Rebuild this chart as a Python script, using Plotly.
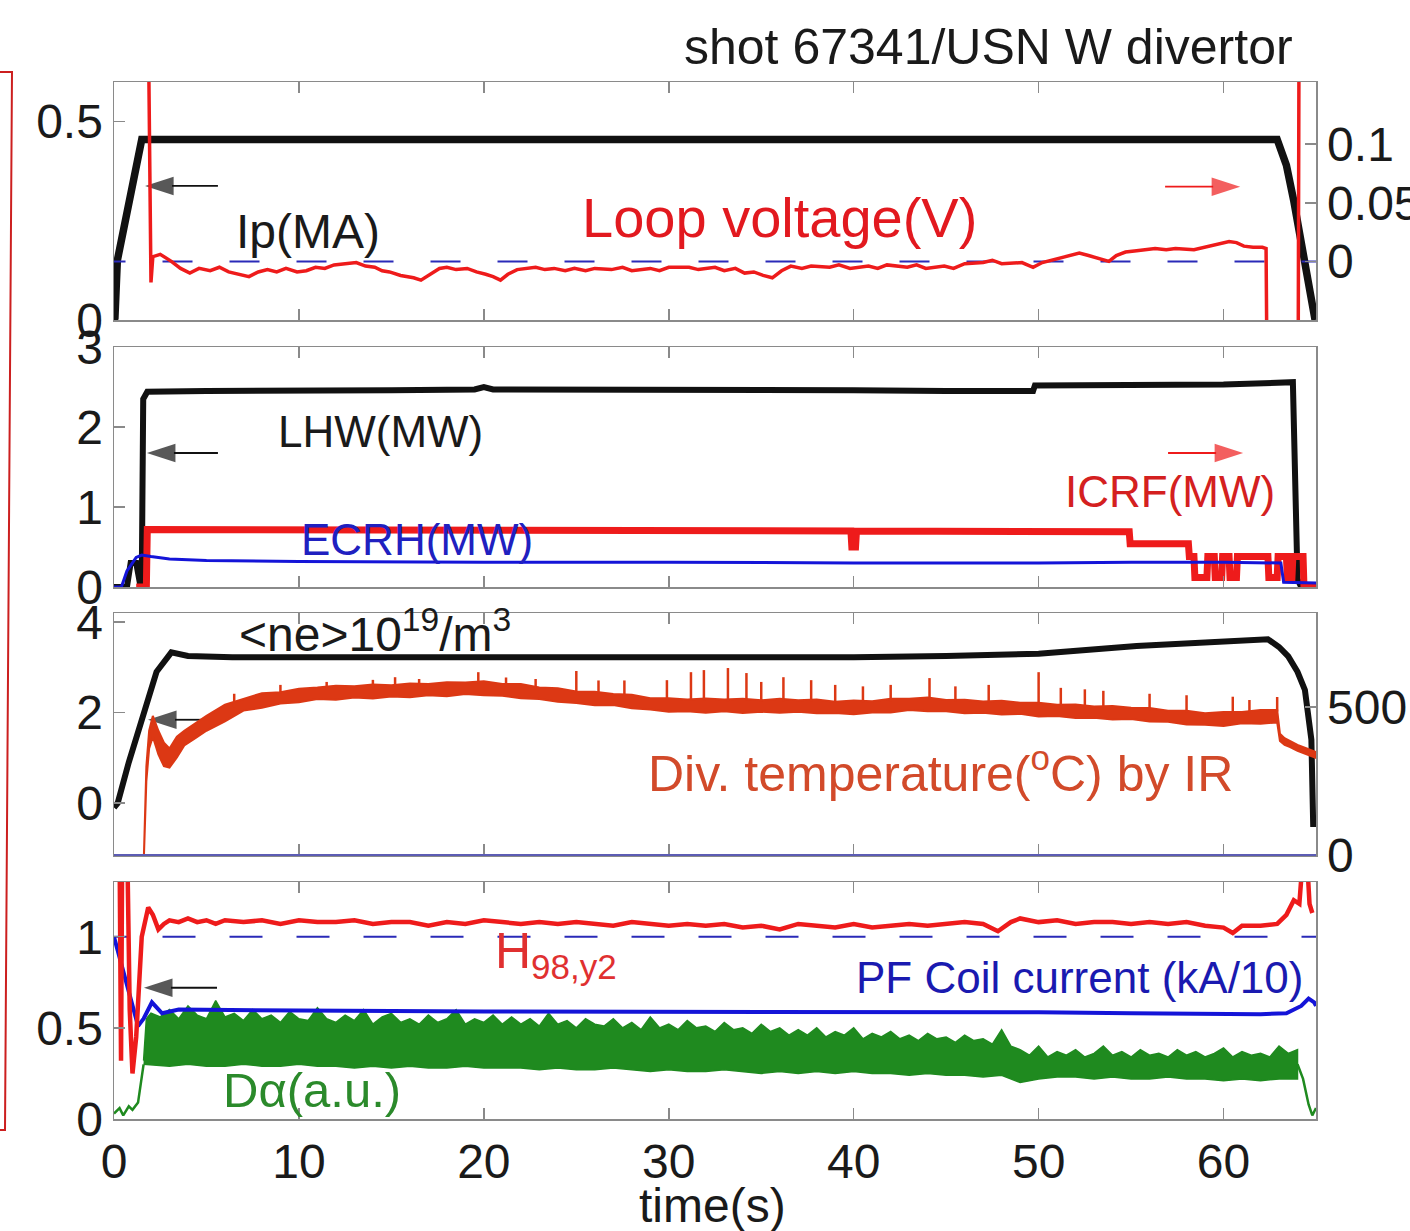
import plotly.graph_objects as go

FONT = "Liberation Sans, Arial, Helvetica, sans-serif"
W, H = 1410, 1231
PL, PR, PT, PB = 114, 1316, 82, 1119   # plot-area pixel box

def px_x(px):
    return (px - PL) / (PR - PL)

def px_y(py):
    return (PB - py) / (PB - PT)

P1 = (82, 320); P2 = (347, 587); P3 = (613, 855); P4 = (882, 1119)

def dom(p):
    return [px_y(p[1]), px_y(p[0])]

# ---------------- data ----------------
time_ticks = [0, 10, 20, 30, 40, 50, 60]

# Panel 1: plasma current (MA) and loop voltage (V)
ip_t = [0.0, 0.05, 0.18, 1.5, 62.9, 63.4, 63.8, 64.5, 64.95]
ip_v = [0.0, 0.005, 0.15, 0.455, 0.455, 0.39, 0.30, 0.10, 0.0]

lv_t = [
    1.6, 2.0, 2.1, 2.5, 3.1, 3.6, 4.1, 4.6, 5.2, 5.7,
    6.2, 6.8, 7.3, 7.8, 8.3, 8.8, 9.3, 9.9, 10.4, 10.9,
    11.4, 11.9, 12.4, 13.1, 13.6, 14.1, 14.5, 14.9, 15.5, 16.2,
    16.6, 17.2, 17.6, 18.0, 18.5, 19.1, 19.6, 20.1, 20.5, 20.9,
    21.3, 21.8, 22.3, 22.8, 23.3, 23.8, 24.4, 24.9, 25.5, 26.0,
    26.9, 27.5, 28.0, 29.0, 29.5, 30.0, 31.1, 31.6, 32.5, 33.0,
    33.6, 34.1, 34.6, 35.1, 35.6, 36.1, 36.6, 37.2, 37.7, 38.7,
    39.2, 39.8, 40.8, 41.3, 41.8, 42.9, 43.4, 43.9, 44.9, 45.4,
    46.0, 47.0, 47.5, 48.0, 49.1, 49.7, 50.2, 50.7, 51.3, 52.2,
    52.7, 53.2, 53.8, 54.2, 54.7, 55.3, 56.3, 56.9, 57.4, 58.4,
    58.9, 59.4, 59.8, 60.3, 60.7, 61.1, 61.6, 62.1, 62.3, 62.45,
    64.0, 64.15, 65.0]
lv_v = [
    0.60, -0.018, 0.004, 0.006, 0.000, -0.006, -0.010, -0.006, -0.008, -0.005,
    -0.009, -0.011, -0.013, -0.009, -0.007, -0.009, -0.006, -0.009, -0.008, -0.005,
    -0.006, -0.003, -0.002, -0.001, -0.004, -0.005, -0.008, -0.009, -0.012, -0.014,
    -0.016, -0.010, -0.006, -0.005, -0.007, -0.006, -0.009, -0.011, -0.013, -0.016,
    -0.011, -0.007, -0.006, -0.005, -0.007, -0.006, -0.008, -0.006, -0.008, -0.006,
    -0.007, -0.005, -0.008, -0.006, -0.008, -0.005, -0.005, -0.007, -0.005, -0.008,
    -0.006, -0.010, -0.009, -0.012, -0.014, -0.008, -0.004, -0.006, -0.004, -0.005,
    -0.003, -0.006, -0.004, -0.006, -0.003, -0.005, -0.003, -0.006, -0.004, -0.006,
    -0.002, -0.001, 0.001, -0.002, -0.001, -0.005, -0.001, 0.001, 0.004, 0.007,
    0.005, 0.003, 0.000, 0.005, 0.008, 0.009, 0.011, 0.010, 0.011, 0.010,
    0.012, 0.014, 0.015, 0.017, 0.016, 0.013, 0.012, 0.012, 0.011, -0.30,
    -0.30, 0.60, 0.60]

# Panel 2: heating powers (MW)
lhw_t = [0, 0.7, 0.9, 1.2, 1.4, 1.5, 1.58, 1.8, 5, 10, 15, 19.5, 20, 20.5,
         25, 30, 35, 40, 45, 49.7, 49.8, 55, 60, 63.75, 64.0, 64.2, 65]
lhw_v = [0, 0, 0.3, 0.3, 0.05, 0.05, 2.35, 2.44, 2.45, 2.45, 2.46, 2.47, 2.5, 2.47,
         2.47, 2.46, 2.47, 2.46, 2.45, 2.45, 2.52, 2.52, 2.53, 2.56, 0.1, 0.0, 0.0]

icrf_t = [1.2, 1.75, 1.8, 39.85, 39.9, 40.1, 40.15, 54.9, 54.95, 58.1,
          58.15, 58.4, 58.45, 59.1, 59.15, 59.5, 59.55, 59.9, 59.95, 60.3,
          60.35, 60.7, 60.75, 62.4, 62.45, 62.9, 62.95, 63.4, 63.45, 63.7,
          63.75, 64.3, 64.35, 65.0]
icrf_v = [0, 0, 0.72, 0.70, 0.50, 0.50, 0.70, 0.69, 0.54, 0.54,
          0.38, 0.38, 0.12, 0.12, 0.38, 0.38, 0.12, 0.12, 0.38, 0.38,
          0.12, 0.12, 0.38, 0.38, 0.12, 0.12, 0.38, 0.38, 0.12, 0.12,
          0.38, 0.38, 0.0, 0.0]

ecrh_t = [0, 0.4, 0.7, 1.2, 1.5, 2.0, 3, 5, 10, 20, 30, 40, 50, 55, 60, 63.1, 63.25, 65]
ecrh_v = [0.0, 0.0, 0.2, 0.37, 0.40, 0.38, 0.35, 0.33, 0.32, 0.31, 0.31, 0.30, 0.30,
          0.31, 0.31, 0.30, 0.06, 0.05]

# Panel 3: line-averaged density (1e19 m^-3) and divertor temperature (C)
ne_t = [0, 0.2, 0.8, 1.55, 2.3, 3.1, 4, 6.4, 10, 20, 30, 40, 45, 50, 55.3, 59.1,
        62.0, 62.4, 63.0, 63.5, 64.0, 64.4, 64.75, 64.85]
ne_v = [-0.1, 0.0, 0.9, 1.9, 2.9, 3.33, 3.25, 3.22, 3.22, 3.2, 3.22, 3.22, 3.25, 3.3,
        3.47, 3.55, 3.58, 3.62, 3.45, 3.24, 2.9, 2.5, 1.4, -0.53]

div_t = [1.6, 1.75, 1.9, 2.1, 2.4, 2.7, 3.0, 3.4, 3.8, 4.4,
         5, 6, 7, 8, 9, 10, 11, 12, 13, 14,
         15, 16, 17, 18, 19, 20, 21, 22, 23, 24,
         25, 26, 27, 28, 29, 30, 31, 32, 33, 34,
         35, 36, 37, 38, 39, 40, 41, 42, 43, 44,
         45, 46, 47, 48, 49, 50, 51, 52, 53, 54,
         55, 56, 57, 58, 59, 60, 61, 62, 62.9, 63.05,
         63.3, 63.6, 64.0, 64.5, 65.0]
div_lo = [-40, 250, 360, 400, 340, 300, 295, 330, 370, 395,
          420, 452, 488, 498, 512, 516, 527, 525, 532, 529,
          536, 533, 540, 537, 544, 540, 538, 530, 527, 518,
          514, 506, 507, 496, 492, 484, 486, 481, 486, 480,
          484, 481, 484, 479, 480, 476, 482, 482, 490, 486,
          486, 479, 481, 475, 477, 468, 470, 463, 464, 458,
          460, 451, 450, 441, 440, 436, 445, 444, 448, 385,
          372, 365, 352, 340, 328]
div_hi = [-40, 300, 420, 470, 420, 380, 360, 400, 420, 445,
          470, 508, 528, 547, 550, 562, 566, 572, 570, 576,
          574, 580, 578, 584, 583, 587, 578, 578, 566, 564,
          553, 552, 544, 542, 530, 530, 526, 529, 526, 528,
          523, 528, 523, 526, 518, 522, 520, 528, 528, 532,
          524, 525, 519, 521, 515, 515, 508, 509, 502, 504,
          498, 497, 488, 488, 479, 483, 483, 490, 490, 410,
          395, 385, 372, 360, 348]
spk_t = [6.5, 9.0, 11.5, 14.0, 15.2, 16.5, 19.7, 21.2, 22.8, 25.0, 26.2, 27.6,
         29.9, 31.2, 31.9, 33.2, 34.2, 35.0, 36.2, 37.7, 39.0, 40.5, 42.0, 44.1,
         45.5, 47.3, 50.0, 51.2, 52.5, 53.5, 56.0, 58.0, 60.5, 61.4, 62.9]
spk_top = [545, 575, 585, 592, 601, 595, 618, 600, 595, 622, 590, 590,
           591, 618, 625, 632, 615, 585, 601, 591, 575, 570, 575, 598,
           570, 575, 618, 565, 560, 555, 545, 540, 535, 524, 534]
spk_base = [500, 550, 560, 565, 570, 570, 580, 570, 560, 550, 545, 540,
            525, 525, 522, 520, 522, 520, 520, 520, 515, 515, 520, 525,
            520, 515, 510, 505, 500, 498, 490, 482, 478, 478, 485]

# Panel 4: H98,y2, PF coil current (kA/10), D-alpha (a.u.)
h_t = [0.15, 0.3, 0.38, 0.45, 0.7, 0.85, 1.0, 1.2, 1.5, 1.85,
       2.1, 2.4, 2.7, 3.0, 3.5, 4, 4.5, 5, 5.5, 6,
       7, 8, 9, 10, 11, 12, 13, 14, 15, 16,
       17, 18, 19, 20, 21, 22, 23, 24, 25, 26,
       27, 28, 29, 30, 31, 32, 33, 34, 35, 36,
       37, 38, 39, 40, 41, 42, 43, 44, 45, 46,
       47, 47.8, 48.5, 49, 50, 51, 52, 53, 54, 55,
       56, 57, 58, 59, 60, 60.5, 61, 62, 62.9, 63.4,
       63.8, 64.1, 64.3, 64.5, 64.65, 64.8]
h_v = [2.0, 1.5, 0.32, 1.6, 1.6, 0.6, 0.25, 0.45, 1.0, 1.16,
       1.12, 1.04, 1.07, 1.09, 1.08, 1.10, 1.08, 1.09, 1.07, 1.09,
       1.08, 1.09, 1.07, 1.09, 1.08, 1.08, 1.09, 1.07, 1.08, 1.08,
       1.06, 1.08, 1.07, 1.09, 1.08, 1.07, 1.08, 1.07, 1.08, 1.07,
       1.06, 1.08, 1.07, 1.06, 1.07, 1.06, 1.07, 1.05, 1.06, 1.04,
       1.07, 1.06, 1.05, 1.07, 1.05, 1.06, 1.07, 1.06, 1.07, 1.08,
       1.07, 1.03, 1.08, 1.10, 1.08, 1.09, 1.07, 1.08, 1.08, 1.07,
       1.08, 1.07, 1.08, 1.06, 1.05, 1.02, 1.06, 1.06, 1.07, 1.12,
       1.20, 1.18, 1.45, 1.45, 1.18, 1.13]

pf_t = [0, 1.3, 1.45, 1.6, 2.05, 2.6, 3.5, 5, 10, 20, 30, 40, 50, 55, 60, 62,
        63.4, 64.2, 64.6, 64.9, 65]
pf_v = [1.0, 0.51, 0.53, 0.55, 0.64, 0.58, 0.60, 0.60, 0.595, 0.59, 0.59, 0.59,
        0.585, 0.58, 0.575, 0.575, 0.58, 0.62, 0.66, 0.64, 0.62]

dal_pre_t = [0, 0.3, 0.5, 0.8, 1.0, 1.3, 1.6]
dal_pre_v = [0.03, 0.06, 0.02, 0.07, 0.05, 0.09, 0.30]
dal_post_t = [64.0, 64.3, 64.6, 64.8, 65.0]
dal_post_v = [0.30, 0.22, 0.08, 0.02, 0.06]
dal_hi_t = [1.6, 1.75] + [2.0 + 0.5 * i for i in range(125)]
dal_hi = [0.32, 0.55,
          0.58, 0.56, 0.60, 0.55, 0.62, 0.57, 0.55, 0.65, 0.56, 0.58,
          0.54, 0.60, 0.55, 0.57, 0.53, 0.59, 0.55, 0.54, 0.61, 0.55,
          0.53, 0.57, 0.54, 0.60, 0.52, 0.56, 0.58, 0.53, 0.55, 0.52,
          0.57, 0.53, 0.55, 0.60, 0.52, 0.55, 0.53, 0.57, 0.52, 0.56,
          0.52, 0.55, 0.51, 0.58, 0.52, 0.54, 0.50, 0.55, 0.52, 0.51,
          0.55, 0.50, 0.53, 0.49, 0.56, 0.50, 0.52, 0.49, 0.54, 0.50,
          0.51, 0.48, 0.53, 0.49, 0.50, 0.47, 0.52, 0.48, 0.50, 0.46,
          0.49, 0.46, 0.50, 0.45, 0.48, 0.46, 0.50, 0.44, 0.47, 0.45,
          0.48, 0.44, 0.46, 0.43, 0.47, 0.44, 0.45, 0.42, 0.46, 0.43,
          0.44, 0.41, 0.49, 0.40, 0.38, 0.35, 0.40, 0.34, 0.37, 0.35,
          0.38, 0.34, 0.36, 0.40, 0.35, 0.37, 0.34, 0.38, 0.35, 0.36,
          0.34, 0.38, 0.35, 0.37, 0.34, 0.36, 0.39, 0.34, 0.37, 0.35,
          0.36, 0.34, 0.40, 0.36, 0.38]
dal_lo_t = [1.6] + [2.0 + i for i in range(63)]
dal_lo = [0.30,
          0.30, 0.29, 0.30, 0.29, 0.29, 0.30, 0.29, 0.29, 0.30, 0.29,
          0.29, 0.28, 0.29, 0.28, 0.29, 0.28, 0.28, 0.29, 0.28, 0.28,
          0.28, 0.27, 0.28, 0.27, 0.27, 0.28, 0.27, 0.26, 0.27, 0.26,
          0.26, 0.27, 0.26, 0.25, 0.26, 0.25, 0.26, 0.25, 0.26, 0.25,
          0.25, 0.24, 0.25, 0.24, 0.24, 0.23, 0.24, 0.20, 0.22, 0.23,
          0.23, 0.22, 0.23, 0.22, 0.22, 0.23, 0.22, 0.22, 0.21, 0.22,
          0.21, 0.22, 0.22]

# annotation arrows: (head time, tail time, level, x axis, y axis)
arrows_black = [(1.68, 5.62, 0.338, "x", "y"), (1.78, 5.62, 1.675, "x2", "y3"),
                (1.84, 5.0, 1.84, "x3", "y5"), (1.62, 5.57, 0.72, "x4", "y7")]
arrows_red = [(60.9, 56.84, 0.336, "x", "y"), (61.06, 57.0, 1.675, "x2", "y3")]

# ---------------- colours ----------------
BLACK = "#111111"
RED = "#ee1b1b"
BLUE = "#1414d8"
ORANGE = "#dc3814"
GREEN = "#1f8a1f"
FRAME = "#8a8a8a"
PANEL3_LINE = "#5c5cb4"

fig = go.Figure()

def add_line(x, y, xa, ya, color, width, dash=None, **kw):
    fig.add_trace(go.Scatter(x=x, y=y, xaxis=xa, yaxis=ya, mode="lines",
                             line=dict(color=color, width=width, dash=dash),
                             hoverinfo="skip", showlegend=False, **kw))

# Panel 1
add_line([-1, 66], [0, 0], "x", "y2", "#2a2ab8", 2, dash="30px,37px")
add_line(lv_t, lv_v, "x", "y2", RED, 3.5)
add_line(ip_t, ip_v, "x", "y", BLACK, 7.5)

# Panel 2
add_line(lhw_t, lhw_v, "x2", "y3", BLACK, 6)
add_line(icrf_t, icrf_v, "x2", "y3", RED, 7)
add_line(ecrh_t, ecrh_v, "x2", "y3", BLUE, 3)

# Panel 3
fig.add_trace(go.Scatter(x=div_t + div_t[::-1], y=div_hi + div_lo[::-1],
                         xaxis="x3", yaxis="y6", mode="lines", fill="toself",
                         fillcolor=ORANGE, line=dict(color=ORANGE, width=2),
                         hoverinfo="skip", showlegend=False))
sx, sy = [], []
for t, b, tp in zip(spk_t, spk_base, spk_top):
    sx += [t, t, None]
    sy += [b, tp, None]
add_line(sx, sy, "x3", "y6", ORANGE, 2.5)
add_line(ne_t, ne_v, "x3", "y5", BLACK, 6)

# Panel 4
fig.add_trace(go.Scatter(x=dal_hi_t + dal_lo_t[::-1], y=dal_hi + dal_lo[::-1],
                         xaxis="x4", yaxis="y7", mode="lines", fill="toself",
                         fillcolor=GREEN, line=dict(color=GREEN, width=1.5),
                         hoverinfo="skip", showlegend=False))
add_line(dal_pre_t, dal_pre_v, "x4", "y7", GREEN, 2.5)
add_line(dal_post_t, dal_post_v, "x4", "y7", GREEN, 2.5)
add_line(pf_t, pf_v, "x4", "y7", BLUE, 4)
add_line([-1, 66], [1, 1], "x4", "y7", "#2a2ab8", 2, dash="33px,34px")
add_line(h_t, h_v, "x4", "y7", RED, 4.5)

# arrows drawn as line + arrow marker
for group, col in ((arrows_black, BLACK), (arrows_red, RED)):
    for hx, tx, lvl, xa, ya in group:
        fig.add_trace(go.Scatter(
            x=[tx, hx], y=[lvl, lvl], xaxis=xa, yaxis=ya, mode="lines+markers",
            line=dict(color=col, width=1.8),
            marker=dict(symbol="arrow", angleref="previous", size=[0, 30],
                        color=col, line=dict(width=0)),
            hoverinfo="skip", showlegend=False, cliponaxis=False))

# ---------------- axes ----------------
tickfont = dict(family=FONT, size=48, color="#1a1a1a")
base_ax = dict(showline=True, linecolor=FRAME, linewidth=1.5, ticks="inside",
               ticklen=11, tickwidth=1.5, tickcolor=FRAME, showgrid=False,
               zeroline=False, tickfont=tickfont, fixedrange=True,
               automargin=False)

def xax(anchor, labels):
    return dict(base_ax, domain=[0, 1], anchor=anchor, range=[0, 65],
                tickmode="array", tickvals=time_ticks,
                ticktext=[str(v) for v in time_ticks],
                showticklabels=labels, mirror="ticks")

def yax(domain, anchor, rng, vals, texts, side="left", overlay=None):
    d = dict(base_ax, domain=domain, anchor=anchor, range=rng, side=side,
             tickmode="array", tickvals=vals, ticktext=texts)
    if overlay:
        d["overlaying"] = overlay
    else:
        d["mirror"] = True
    return d

layout_axes = dict(
    xaxis=xax("y", False),
    xaxis2=xax("y3", False),
    xaxis3=xax("y5", False),
    xaxis4=xax("y7", True),
    yaxis=yax(dom(P1), "x", [0, 0.6], [0, 0.5], ["0", "0.5"]),
    yaxis2=yax(dom(P1), "x", [-0.05, 0.153], [0, 0.05, 0.1], ["0", "0.05", "0.1"],
               side="right", overlay="y"),
    yaxis3=yax(dom(P2), "x2", [0, 3], [0, 1, 2, 3], ["0", "1", "2", "3"]),
    yaxis4=yax(dom(P2), "x2", [0, 3], [0, 1, 2, 3], ["0", "1", "2", "3"],
               side="right", overlay="y3"),
    yaxis5=yax(dom(P3), "x3", [-1.15, 4.2], [0, 2, 4], ["0", "2", "4"]),
    yaxis6=yax(dom(P3), "x3", [0, 818], [0, 500], ["0", "500"], side="right",
               overlay="y5"),
    yaxis7=yax(dom(P4), "x4", [0, 1.3], [0, 0.5, 1], ["0", "0.5", "1"]),
)

# ---------------- annotations ----------------
anns = []

def txt(text, x, y, xref, yref, size, color, xanchor="center", yanchor="middle"):
    anns.append(dict(text=text, x=x, y=y, xref=xref, yref=yref, showarrow=False,
                     xanchor=xanchor, yanchor=yanchor,
                     font=dict(family=FONT, size=size, color=color)))

txt("shot 67341/USN W divertor", px_x(1295), px_y(47), "paper", "paper", 50,
    "#1a1a1a", xanchor="right")
txt("time(s)", px_x(712), px_y(1205), "paper", "paper", 48, "#1a1a1a")

txt("Ip(MA)", 10.5, 0.222, "x", "y", 48, "#1a1a1a")
txt("Loop voltage(V)", 36.0, 0.258, "x", "y", 56, "#e2191f")
txt("LHW(MW)", 14.4, 1.94, "x2", "y3", 44, "#1a1a1a")
txt("ECRH(MW)", 16.4, 0.59, "x2", "y3", 44, "#2020c0")
txt("ICRF(MW)", 57.1, 1.19, "x2", "y3", 44, "#d42020")
txt("&lt;ne&gt;10<sup>19</sup>/m<sup>3</sup>", 14.1, 3.8, "x3", "y5", 48, "#1a1a1a")
txt("Div. temperature(<sup>o</sup>C) by IR", 44.7, 0.73, "x3", "y5", 50, "#d24a2a")
txt("H<sub>98,y2</sub>", 20.5, 0.90, "x4", "y7", 50, "#e03030", xanchor="left")
txt("PF Coil current (kA/10)", 52.2, 0.775, "x4", "y7", 44, "#1a1ab0")
txt("D\u03b1(a.u.)", 10.7, 0.16, "x4", "y7", 49, "#2b8a2b")

# red bracket at the far left, blue bottom edge of panel 3
bracket = "M {a},{t} L {b},{t} L {c},{bt} L {a},{bt}".format(
    a=px_x(-5), b=px_x(12), c=px_x(5), t=px_y(72), bt=px_y(1130))
shapes = [
    dict(type="path", path=bracket, xref="paper", yref="paper",
         line=dict(color="#cc1f1f", width=2)),
    dict(type="line", x0=0, x1=1, y0=px_y(855), y1=px_y(855), xref="paper",
         yref="paper", line=dict(color=PANEL3_LINE, width=1.8)),
]

fig.update_layout(
    width=W, height=H,
    margin=dict(l=PL, r=W - PR, t=PT, b=H - PB, pad=0, autoexpand=False),
    paper_bgcolor="white", plot_bgcolor="white",
    font=dict(family=FONT, color="#1a1a1a"),
    annotations=anns, shapes=shapes, showlegend=False,
    **layout_axes,
)

fig.write_html("out.html",
               config={"displayModeBar": False, "staticPlot": True},
               post_script="document.body.style.margin='0';"
                           "document.body.style.overflow='hidden';")
